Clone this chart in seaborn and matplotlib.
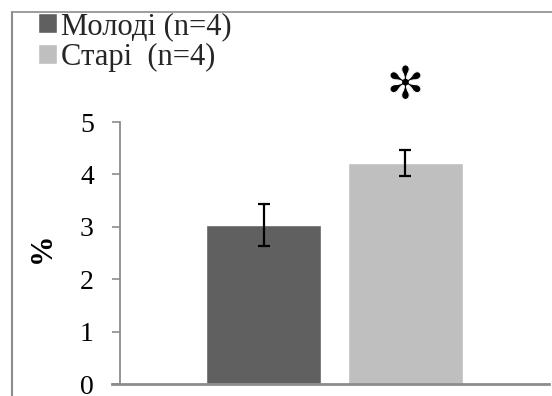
import matplotlib
matplotlib.use("Agg")
import matplotlib.pyplot as plt
from matplotlib.lines import Line2D
import matplotlib.patheffects as pe
import seaborn as sns
import pandas as pd

# Data
groups = ["Молоді (n=4)", "Старі  (n=4)"]
means = [3.04, 4.21]
errors = [0.40, 0.25]
yticks = [0, 1, 2, 3, 4, 5]
colors = ["#606060", "#bfbfbf"]

sns.set_theme(style="white")
plt.rcParams["font.family"] = ["Liberation Serif", "DejaVu Serif"]

W, H = 552, 396
fig = plt.figure(figsize=(W / 100, H / 100), dpi=100)
ax = fig.add_axes([120 / W, 1 - 384 / H, 429 / W, 262 / H])

df = pd.DataFrame({"cat": [""] * len(groups), "group": groups, "value": means})
sns.barplot(data=df, x="cat", y="value", hue="group", palette=colors,
            width=0.662, gap=0.19, errorbar=None, ax=ax, saturation=1)

# error bars at bar centres
bars = [p for p in ax.patches][:len(groups)]
for p, m, e in zip(bars, means, errors):
    xc = p.get_x() + p.get_width() / 2
    ax.errorbar(xc, m, yerr=e, fmt="none", ecolor="black", elinewidth=1.6,
                capsize=4.3, capthick=1.6, zorder=5)

ax.set_xlim(-0.5, 0.5)
ax.set_ylim(0, 5)
ax.set_yticks(yticks)
ax.set_xticks([])
ax.set_xlabel("")
ax.set_ylabel("%", fontsize=22, fontweight="bold", color="black",
              family=["Liberation Serif"])
ax.yaxis.set_label_coords(-0.146, 0.519)

for s in ["top", "right"]:
    ax.spines[s].set_visible(False)
ax.spines["left"].set_color("#8c8c8c")
ax.spines["left"].set_linewidth(1.3)
ax.spines["bottom"].set_color("#8c8c8c")
ax.spines["bottom"].set_linewidth(2.0)
ax.spines["bottom"].set_bounds(-0.5 - 8 / 429, 0.5)
ax.tick_params(axis="y", which="major", left=True, length=5.8, width=1.2,
               color="#8c8c8c", pad=13, labelsize=20, labelcolor="black")

# significance mark
ax.text(bars[1].get_x() + bars[1].get_width() / 2, 5.68, "\u273B", fontsize=33,
        ha="center", va="center", clip_on=False, color="black",
        family=["DejaVu Sans"],
        path_effects=[pe.Normal(), pe.Stroke(linewidth=0.8, foreground="white")])

leg = ax.legend(loc="upper left", bbox_to_anchor=(38 / W, 1 - 12 / H),
                bbox_transform=fig.transFigure, frameon=False, fontsize=22,
                handlelength=0.62, handleheight=0.62, handletextpad=0.12,
                labelspacing=0.05, borderpad=0, borderaxespad=0)

# outer frame (top and left edges visible)
fig.add_artist(Line2D([12 / W, 12 / W], [0, 1 - 11.5 / H], transform=fig.transFigure,
                      color="#8c8c8c", lw=1.5))
fig.add_artist(Line2D([12 / W, 1], [1 - 11.5 / H, 1 - 11.5 / H], transform=fig.transFigure,
                      color="#8c8c8c", lw=1.2))

fig.savefig("out.png", dpi=100)
